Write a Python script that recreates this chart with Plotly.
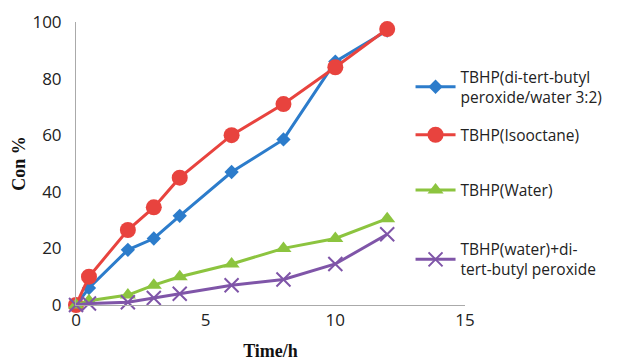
import plotly.graph_objects as go

time_h = [0, 0.5, 2, 3, 4, 6, 8, 10, 12]
names = [
    "TBHP(di-tert-butyl<br>peroxide/water 3:2)",
    "TBHP(Isooctane)",
    "TBHP(Water)",
    "TBHP(water)+di-<br>tert-butyl peroxide",
]
dtbp_water = [0, 6, 19.5, 23.5, 31.5, 47, 58.5, 86, 97]
isooctane = [0, 10, 26.5, 34.5, 45, 60, 71, 84, 97.5]
water = [0, 1.5, 3.5, 7, 10, 14.5, 20, 23.5, 30.5]
water_dtbp = [0, 0.5, 1, 2.5, 4, 7, 9, 14.5, 25]

series = [dtbp_water, isooctane, water, water_dtbp]
colors = ["#2C7CCB", "#E8433E", "#8CC43F", "#7F55A8"]
symbols = ["diamond", "circle", "triangle-up", "x-thin"]
msizes = [11, 16, 14, 14]
legends = ["legend", "legend2", "legend3", "legend4"]

fig = go.Figure()
for i in range(4):
    mk = dict(symbol=symbols[i], size=msizes[i], color=colors[i])
    if symbols[i] == "x-thin":
        mk["line"] = dict(color=colors[i], width=2)
    fig.add_trace(go.Scatter(
        x=time_h, y=series[i], name=names[i], mode="lines+markers",
        line=dict(color=colors[i], width=3), marker=mk,
        cliponaxis=False, legend=legends[i],
    ))

leg_font = dict(family="Open Sans, sans-serif", size=15.5, color="#222")
leg_common = dict(x=0.86, xanchor="left", yanchor="middle", font=leg_font,
                  bgcolor="rgba(0,0,0,0)", itemwidth=40)

tick_font = dict(family="Open Sans, sans-serif", size=17, color="#222")
title_font = dict(family="Liberation Serif, serif", size=18, color="#111")

fig.update_layout(
    width=629, height=361,
    margin=dict(l=76, r=164, t=22, b=56),
    paper_bgcolor="white", plot_bgcolor="white",
    showlegend=True,
    legend=dict(y=0.77, **leg_common),
    legend2=dict(y=0.60, **leg_common),
    legend3=dict(y=0.405, **leg_common),
    legend4=dict(y=0.16, **leg_common),
    xaxis=dict(range=[0, 15], tickvals=[0, 5, 10, 15], showgrid=False,
               showline=True, linecolor="#aaa", linewidth=1, zeroline=False,
               ticks="", tickfont=tick_font, ticklabelstandoff=0, automargin=False,
               title=dict(text="<b>Time/h</b>", font=title_font, standoff=14)),
    yaxis=dict(range=[0, 100], tickvals=[0, 20, 40, 60, 80, 100], showgrid=False,
               showline=True, linecolor="#aaa", linewidth=1, zeroline=False,
               ticks="", tickfont=tick_font, ticklabelstandoff=10, automargin=False,
               title=dict(text="<b>Con %</b>", font=title_font, standoff=2)),
)
fig.write_html("out.html")
